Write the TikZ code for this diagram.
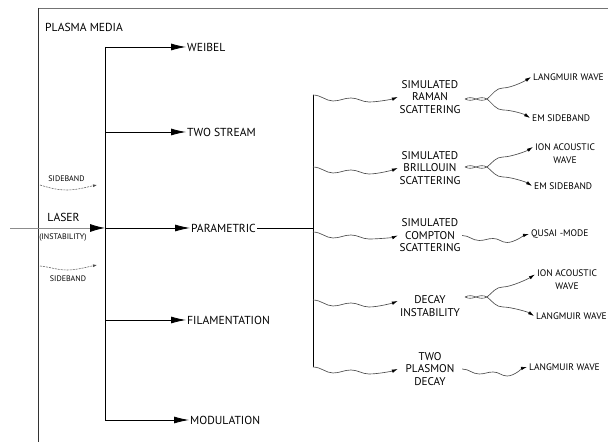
\documentclass[tikz,border=0pt]{standalone}
\usepackage{fontspec}
\setmainfont{PT Sans}
\usetikzlibrary{arrows.meta}
\begin{document}
\begin{tikzpicture}[x=1pt,y=1pt,
  frame/.style={draw=black!55, line width=0.8pt},
  line/.style={draw=black, line width=0.8pt},
  bigarrow/.style={line, -{Latex[length=15pt,width=7pt]}},
  wavy/.style={draw=black!70, line width=0.65pt, -{Latex[length=6pt,width=3.5pt,color=black]}},
  braid/.style={draw=black!70, line width=0.6pt},
  smallwave/.style={draw=black!60, line width=0.6pt, dash pattern=on 2pt off 1pt, -{Latex[length=4pt,width=3pt,color=black!70]}},
  mainlbl/.style={font=\fontsize{11.6}{13}\selectfont, inner xsep=1pt, inner ysep=1pt},
  midlbl/.style={font=\fontsize{11.2}{12.5}\selectfont, align=center, text width=62pt, inner sep=1pt},
  rlbl/.style={font=\fontsize{9.5}{13}\selectfont, align=center, inner xsep=2pt, inner ysep=1pt},
  tinylbl/.style={font=\fontsize{8}{9}\selectfont, inner sep=1pt}
]
\useasboundingbox (0,0) rectangle (608,446);

% frame
\coordinate (ftl) at (38,438);
\coordinate (ftr) at (608,438);
\coordinate (fbl) at (38,4);
\draw[frame] (ftr) -- (ftl);
\draw[line, draw=black!80] (ftl) -- (fbl);
\node[mainlbl, anchor=west] (pm) at (44,419) {PLASMA MEDIA};

% first trunk
\coordinate (jw) at (105,399);
\coordinate (jt) at (105,314);
\coordinate (jp) at (105,218);
\coordinate (jf) at (105,126);
\coordinate (jm) at (105,26);
\draw[line] (jw) -- (jm);

\node[mainlbl, anchor=west] (weibel) at (186,399) {WEIBEL};
\node[mainlbl, anchor=west] (two) at (186,314) {TWO STREAM};
\node[mainlbl, anchor=west] (par) at (190,218) {PARAMETRIC};
\node[mainlbl, anchor=west] (fil) at (186,126) {FILAMENTATION};
\node[mainlbl, anchor=west] (mod) at (189,26) {MODULATION};

\draw[bigarrow] (jw) -- (weibel.west);
\draw[bigarrow] (jt) -- (two.west);
\draw[bigarrow] (jp) -- (par.west);
\draw[bigarrow] (jf) -- (fil.west);
\draw[bigarrow] (jm) -- (mod.west);

% laser input
\coordinate (lin) at (10,218);
\draw[draw=black!45, line width=0.8pt, -{Latex[length=15pt,width=8pt,color=black]}] (lin) -- (jp);
\node[mainlbl] (laser) at (63.5,229) {LASER};
\node[tinylbl] (inst) at (63,208) {(INSTABILITY)};
\node[tinylbl] (sb1) at (66.5,267) {SIDEBAND};
\node[tinylbl] (sb2) at (68,167) {SIDEBAND};
\coordinate (sw1s) at (40,261);
\coordinate (sw1e) at (97,261);
\coordinate (sw2s) at (40,180);
\coordinate (sw2e) at (97,181);
\draw[smallwave] (sw1s) .. controls +(10,-3) and +(-10,0) .. ++(27,-5) .. controls +(10,0) and +(-10,-2) .. (sw1e);
\draw[smallwave] (sw2s) .. controls +(10,-1) and +(-10,0) .. ++(27,-4) .. controls +(10,0) and +(-10,-2) .. (sw2e);

% second trunk
\coordinate (jq) at (313,218);
\coordinate (q1) at (313,351);
\coordinate (q2) at (313,279);
\coordinate (q3) at (313,214);
\coordinate (q4) at (313,146);
\coordinate (q5) at (313,79);
\draw[line] (par.east) -- (jq);
\draw[line] (q1) -- (q5);

\node[midlbl] (ra) at (430,349) {SIMULATED\\RAMAN\\SCATTERING};
\node[midlbl] (br) at (430,278) {SIMULATED\\BRILLOUIN\\SCATTERING};
\node[midlbl] (cp) at (430,210.5) {SIMULATED\\COMPTON\\SCATTERING};
\node[midlbl] (dc) at (430,140) {DECAY\\INSTABILITY};
\node[midlbl] (tp) at (430,77) {TWO\\PLASMON\\DECAY};

\draw[wavy] (q1) .. controls +(8,0) and +(-7,0) .. ++(20,-6) .. controls +(7,0) and +(-7,0) .. ++(18,3) .. controls +(7,0) and +(-7,0) .. ++(18,-4) .. controls +(9,0) and +(-5,-2) .. (ra.west);
\draw[wavy] (q2) .. controls +(8,0) and +(-7,0) .. ++(20,-6) .. controls +(7,0) and +(-7,0) .. ++(18,3) .. controls +(7,0) and +(-7,0) .. ++(18,-4) .. controls +(9,0) and +(-5,-2) .. (br.west);
\draw[wavy] (q3) .. controls +(8,0) and +(-7,0) .. ++(20,-6) .. controls +(7,0) and +(-7,0) .. ++(18,3) .. controls +(7,0) and +(-7,0) .. ++(18,-4) .. controls +(9,0) and +(-5,-2) .. (cp.west);
\draw[wavy] (q4) .. controls +(8,0) and +(-7,0) .. ++(20,-6) .. controls +(7,0) and +(-7,0) .. ++(18,3) .. controls +(7,0) and +(-7,0) .. ++(18,-4) .. controls +(9,0) and +(-5,-2) .. ([yshift=5pt]dc.west);
\draw[wavy] (q5) .. controls +(8,0) and +(-7,0) .. ++(20,-6) .. controls +(7,0) and +(-7,0) .. ++(18,3) .. controls +(7,0) and +(-7,0) .. ++(18,-4) .. controls +(9,0) and +(-5,-2) .. (tp.west);

% right labels
\node[rlbl, anchor=west] (lw1) at (531,369) {LANGMUIR WAVE};
\node[rlbl, anchor=west] (em1) at (530,328) {EM SIDEBAND};
\node[rlbl] (ia1) at (565,292.5) {ION ACOUSTIC\\WAVE};
\node[rlbl, anchor=west] (em2) at (532,260) {EM SIDEBAND};
\node[rlbl, anchor=west] (qm) at (529,212) {QUSAI -MODE};
\node[rlbl] (ia2) at (567,166.5) {ION ACOUSTIC\\WAVE};
\node[rlbl, anchor=west] (lw2) at (534,130) {LANGMUIR WAVE};
\node[rlbl, anchor=west] (lw3) at (527,79) {LANGMUIR WAVE};

% Raman split
\coordinate (b1) at (465,347);
\coordinate (s1) at (487,347);
\draw[braid] (b1) .. controls +(4,2) and +(-4,1.5) .. ++(11,0) .. controls +(4,-1.5) and +(-4,-2) .. (s1);
\draw[braid] (b1) .. controls +(4,-2) and +(-4,-1.5) .. ++(11,0) .. controls +(4,1.5) and +(-4,2) .. (s1);
\draw[wavy] (s1) .. controls +(6,5) and +(-7,0) .. ++(16,11) .. controls +(8,0) and +(-6,-4) .. (lw1.west);
\draw[wavy] (s1) .. controls +(6,-5) and +(-7,0) .. ++(16,-11) .. controls +(8,0) and +(-6,4) .. (em1.west);

% Brillouin split
\coordinate (b2) at (465,279);
\coordinate (s2) at (487,279);
\draw[braid] (b2) .. controls +(4,2) and +(-4,1.5) .. ++(11,0) .. controls +(4,-1.5) and +(-4,-2) .. (s2);
\draw[braid] (b2) .. controls +(4,-2) and +(-4,-1.5) .. ++(11,0) .. controls +(4,1.5) and +(-4,2) .. (s2);
\draw[wavy] (s2) .. controls +(6,5) and +(-7,0) .. ++(16,10) .. controls +(8,0) and +(-6,-4) .. ([yshift=6.5pt]ia1.west);
\draw[wavy] (s2) .. controls +(6,-5) and +(-7,0) .. ++(16,-10) .. controls +(8,0) and +(-6,4) .. (em2.west);

% Compton
\draw[wavy] (cp.east) .. controls +(7,0) and +(-7,0) .. ++(17,-5) .. controls +(6,0) and +(-6,0) .. ++(14,2) .. controls +(6,0) and +(-6,0) .. ++(14,-4) .. controls +(7,0) and +(-4,-1) .. (qm.west);

% Decay split
\coordinate (b4) at (465,149);
\coordinate (s4) at (487,149);
\draw[braid] (b4) .. controls +(4,2) and +(-4,1.5) .. ++(11,0) .. controls +(4,-1.5) and +(-4,-2) .. (s4);
\draw[braid] (b4) .. controls +(4,-2) and +(-4,-1.5) .. ++(11,0) .. controls +(4,1.5) and +(-4,2) .. (s4);
\draw[wavy] (s4) .. controls +(6,5) and +(-7,0) .. ++(16,10) .. controls +(8,0) and +(-6,-4) .. ([yshift=5pt]ia2.west);
\draw[wavy] (s4) .. controls +(6,-5) and +(-7,0) .. ++(16,-10) .. controls +(8,0) and +(-6,4) .. (lw2.west);

% Two plasmon
\draw[wavy] (tp.east) .. controls +(7,0) and +(-7,0) .. ++(17,-5) .. controls +(6,0) and +(-6,0) .. ++(14,2) .. controls +(6,0) and +(-6,0) .. ++(14,-4) .. controls +(7,0) and +(-4,-1) .. (lw3.west);
\end{tikzpicture}
\end{document}
